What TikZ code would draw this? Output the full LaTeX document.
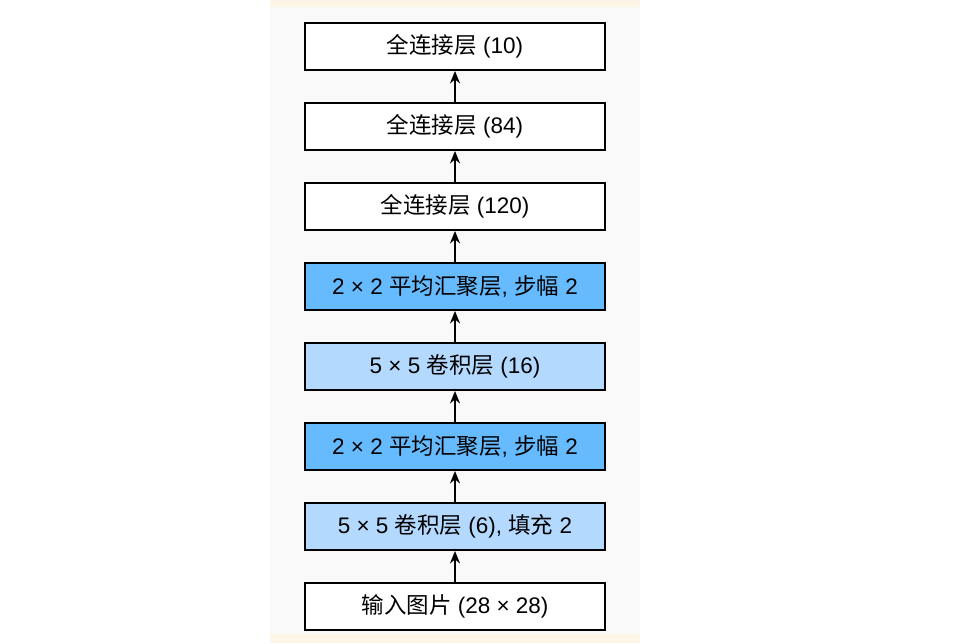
\documentclass[tikz,border=0pt]{standalone}
\usepackage{fontspec}
\setmainfont{Liberation Sans}
\newfontfamily\cjkfont{Noto Sans CJK SC}
\newcommand{\zh}[1]{{\cjkfont #1}}
\usetikzlibrary{arrows.meta}

\definecolor{panelbg}{HTML}{F9F9F9}
\definecolor{creambg}{HTML}{FDF6E6}
\definecolor{convblue}{HTML}{B3D9FF}
\definecolor{poolblue}{HTML}{66BBFF}

\begin{document}
\begin{tikzpicture}[
    x=0.02cm, y=-0.02cm,
    layer/.style={rectangle, draw, line width=1.1pt, fill=white, minimum width=6cm, minimum height=0.94cm, align=center, font=\fontsize{12.8}{14}\selectfont},
    conv/.style={layer, fill=convblue},
    pool/.style={layer, fill=poolblue},
    arrow/.style={-{Stealth[length=2.5mm, width=2mm]}, line width=1pt}
]
% page and panel
\fill[white] (0,0) rectangle (959,643);
\fill[panelbg] (270,0) rectangle (640,643);
\fill[creambg] (270,0) rectangle (640,7);
\fill[creambg] (270,634) rectangle (640,643);

\node[layer] (input) at (455,606.5) {\zh{输入图片} (28 × 28)};
\node[conv] (conv1) at (455,526.5) {5 × 5 \zh{卷积层} (6), \zh{填充} 2};
\node[pool] (pool1) at (455,446.5) {2 × 2 \zh{平均汇聚层}, \zh{步幅} 2};
\node[conv] (conv2) at (455,366.5) {5 × 5 \zh{卷积层} (16)};
\node[pool] (pool2) at (455,286.5) {2 × 2 \zh{平均汇聚层}, \zh{步幅} 2};
\node[layer] (fc1) at (455,206.5) {\zh{全连接层} (120)};
\node[layer] (fc2) at (455,126.5) {\zh{全连接层} (84)};
\node[layer] (fc3) at (455,46.5) {\zh{全连接层} (10)};

\draw[arrow] (input) -- (conv1);
\draw[arrow] (conv1) -- (pool1);
\draw[arrow] (pool1) -- (conv2);
\draw[arrow] (conv2) -- (pool2);
\draw[arrow] (pool2) -- (fc1);
\draw[arrow] (fc1) -- (fc2);
\draw[arrow] (fc2) -- (fc3);
\end{tikzpicture}
\end{document}
